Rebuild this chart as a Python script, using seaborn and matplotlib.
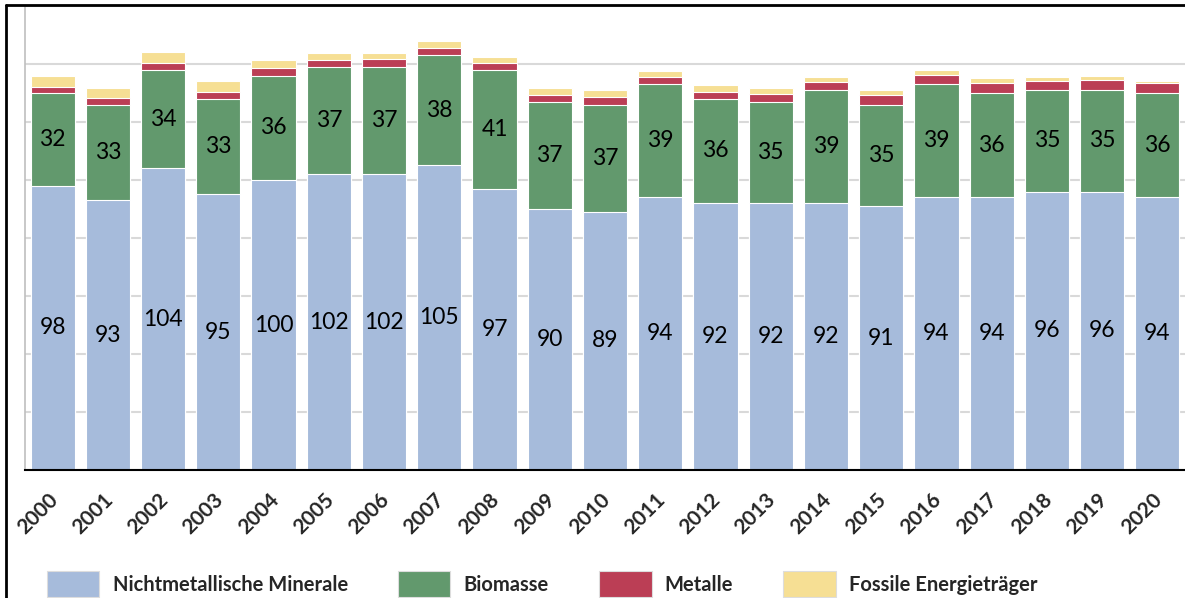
import matplotlib
matplotlib.use("Agg")
import matplotlib.pyplot as plt
import matplotlib.transforms as mtransforms
from matplotlib.lines import Line2D
from matplotlib.patches import Patch
import seaborn as sns
import pandas as pd
import numpy as np

years = [str(y) for y in range(2000, 2021)]
minerale = [98, 93, 104, 95, 100, 102, 102, 105, 97, 90, 89, 94, 92, 92, 92, 91, 94, 94, 96, 96, 94]
biomasse = [32, 33, 34, 33, 36, 37, 37, 38, 41, 37, 37, 39, 36, 35, 39, 35, 39, 36, 35, 35, 36]
metalle = [2.2, 2.4, 2.4, 2.5, 2.5, 2.4, 2.6, 2.6, 2.4, 2.4, 2.5, 2.4, 2.5, 2.8, 2.8, 3.2, 3.2, 3.3, 3.0, 3.6, 3.3]
fossile = [3.7, 3.4, 3.9, 3.8, 2.8, 2.4, 2.3, 2.3, 2.1, 2.3, 2.4, 2.3, 2.1, 1.8, 1.8, 1.9, 1.6, 1.8, 1.6, 1.3, 1.0]

series_names = ["Nichtmetallische Minerale", "Biomasse", "Metalle", "Fossile Energieträger"]
colors = ["#A6BBDB", "#62996D", "#BB3E55", "#F6DF94"]

sns.set_theme(style="white")
plt.rcParams["font.family"] = ["Lato", "DejaVu Sans"]

fig = plt.figure(figsize=(11.85, 5.98), dpi=100)
ax = fig.add_axes([25 / 1185, (598 - 470) / 598, 1 - 25 / 1185, (470 - 6) / 598])

layers = [np.array(minerale, float), np.array(biomasse, float), np.array(metalle, float), np.array(fossile, float)]
cum = np.cumsum(np.vstack(layers), axis=0)

# draw cumulative totals from top down so the stacks overlay
for i in range(3, -1, -1):
    df = pd.DataFrame({"Jahr": years, "Wert": cum[i]})
    sns.barplot(data=df, x="Jahr", y="Wert", color=colors[i], saturation=1,
                width=0.8, edgecolor="white", linewidth=0.8, ax=ax, zorder=2)

# value labels for minerals and biomass
for j in range(len(years)):
    ax.text(j, minerale[j] / 2, str(minerale[j]), ha="center", va="center",
            fontsize=16.5, color="black", zorder=5)
    ax.text(j, minerale[j] + biomasse[j] / 2, str(biomasse[j]), ha="center", va="center",
            fontsize=16.5, color="black", zorder=5)

ax.set_ylim(0, 160)
ax.set_xlim(-0.5, 20.5)
ax.set_yticks(np.arange(0, 161, 20))
ax.set_yticklabels([])
ax.set_ylabel("")
ax.set_xlabel("")
ax.grid(axis="y", color="#D9D9D9", linewidth=1.5, zorder=0)
ax.set_axisbelow(True)
for s in ["top", "right"]:
    ax.spines[s].set_visible(False)
ax.spines["left"].set_color("#BFBFBF")
ax.spines["left"].set_linewidth(1.2)
ax.spines["bottom"].set_color("black")
ax.spines["bottom"].set_linewidth(1.5)
ax.tick_params(axis="both", length=0)
ax.tick_params(axis="x", pad=14)
shift = mtransforms.ScaledTranslation(-5 / 100, 0, fig.dpi_scale_trans)
for lbl in ax.get_xticklabels():
    lbl.set_rotation(45)
    lbl.set_ha("right")
    lbl.set_rotation_mode("anchor")
    lbl.set_fontweight("bold")
    lbl.set_fontsize(15)
    lbl.set_transform(lbl.get_transform() + shift)

handles = [Patch(facecolor=c, edgecolor="#DDDDDD", linewidth=0.8) for c in colors]
leg = fig.legend(handles, series_names, loc="center", bbox_to_anchor=(0.4576, 1 - 584 / 598),
                 ncol=4, frameon=False, handlelength=2.6, handleheight=1.6,
                 handletextpad=0.65, columnspacing=2.5, prop={"weight": "bold", "size": 14.5})

# outer frame
fig.add_artist(Line2D([6 / 1185, 1], [1 - 5 / 598, 1 - 5 / 598], transform=fig.transFigure,
                      color="black", linewidth=2))
fig.add_artist(Line2D([6 / 1185, 6 / 1185], [0, 1 - 5 / 598], transform=fig.transFigure,
                      color="black", linewidth=2))

fig.savefig("out.png", dpi=100)
